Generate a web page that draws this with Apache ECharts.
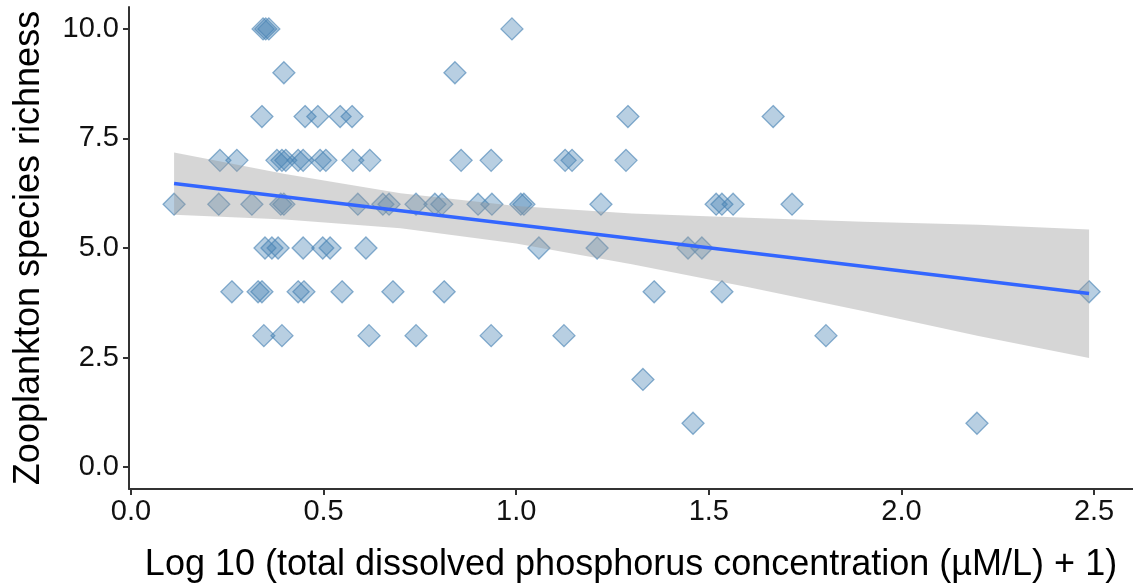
<!DOCTYPE html>
<html>
<head>
<meta charset="utf-8">
<script src="https://cdn.jsdelivr.net/npm/echarts@6/dist/echarts.min.js"></script>
<style>
  html, body { margin: 0; padding: 0; background: #ffffff; }
  #chart { width: 1133px; height: 588px; }
</style>
</head>
<body>
<div id="chart"></div>
<script>
// Sites: log10(TDP + 1) and zooplankton species richness
const logTDP = [
  // richness 10
  0.343, 0.350, 0.358, 0.989,
  // richness 9
  0.397, 0.841,
  // richness 8
  0.340, 0.452, 0.485, 0.543, 0.574, 1.290, 1.667,
  // richness 7
  0.231, 0.275, 0.379, 0.392, 0.402, 0.434, 0.447, 0.491, 0.506, 0.576,
  0.620, 0.857, 0.935, 1.127, 1.145, 1.285,
  // richness 6
  0.112, 0.228, 0.314, 0.389, 0.397, 0.589, 0.654, 0.670, 0.740, 0.789,
  0.807, 0.901, 0.937, 1.012, 1.020, 1.220, 1.519, 1.534, 1.563, 1.716,
  // richness 5
  0.348, 0.366, 0.382, 0.447, 0.498, 0.517, 0.610, 1.059, 1.210, 1.446, 1.482,
  // richness 4
  0.262, 0.330, 0.340, 0.434, 0.449, 0.548, 0.680, 0.813, 1.358, 1.534, 2.487,
  // richness 3
  0.345, 0.392, 0.618, 0.740, 0.935, 1.124, 1.804,
  // richness 2
  1.329,
  // richness 1
  1.459, 2.196
];
const richness = [
  10, 10, 10, 10,
  9, 9,
  8, 8, 8, 8, 8, 8, 8,
  7, 7, 7, 7, 7, 7, 7, 7, 7, 7,
  7, 7, 7, 7, 7, 7,
  6, 6, 6, 6, 6, 6, 6, 6, 6, 6,
  6, 6, 6, 6, 6, 6, 6, 6, 6, 6,
  5, 5, 5, 5, 5, 5, 5, 5, 5, 5, 5,
  4, 4, 4, 4, 4, 4, 4, 4, 4, 4, 4,
  3, 3, 3, 3, 3, 3, 3,
  2,
  1, 1
];

// Linear fit and its 95% confidence band
const fitX = [0.112, 2.487];
const fitY = [6.47, 3.96];
const bandX     = [0.112, 0.4,  0.7,  1.0,  1.3,  1.6,  1.9,  2.2,  2.487];
const bandLower = [5.76,  5.65, 5.45, 5.10, 4.63, 4.11, 3.56, 2.99, 2.49];
const bandUpper = [7.18,  6.69, 6.25, 5.96, 5.79, 5.69, 5.60, 5.53, 5.42];

// Axis ticks
const xTicks = [0, 0.5, 1.0, 1.5, 2.0, 2.5];
const yTicks = [0, 2.5, 5.0, 7.5, 10.0];

const points = logTDP.map((x, i) => [x, richness[i]]);
const fitLine = fitX.map((x, i) => [x, fitY[i]]);

const FONT = '"Liberation Sans", Arial, Helvetica, sans-serif';
const axisLineStyle = { color: '#333333', width: 2 };

const chart = echarts.init(document.getElementById('chart'), null, { renderer: 'canvas' });

chart.setOption({
  animation: false,
  backgroundColor: '#ffffff',
  grid: { left: 129, right: 0, top: 7, bottom: 97, containLabel: false },
  xAxis: {
    type: 'value',
    min: -0.005,
    max: 2.601,
    name: 'Log 10 (total dissolved phosphorus concentration (\u00b5M/L) + 1)',
    nameLocation: 'middle',
    nameGap: 58,
    nameTextStyle: { fontFamily: FONT, fontSize: 36, color: '#000000' },
    axisLine: { show: true, onZero: false, lineStyle: axisLineStyle },
    axisTick: { show: true, length: 6, customValues: xTicks, lineStyle: axisLineStyle },
    axisLabel: {
      customValues: xTicks,
      formatter: v => v.toFixed(1),
      fontFamily: FONT, fontSize: 29, color: '#111111', margin: 8
    },
    splitLine: { show: false }
  },
  yAxis: {
    type: 'value',
    min: -0.5,
    max: 10.5,
    name: 'Zooplankton species richness',
    nameLocation: 'middle',
    nameGap: 82,
    nameRotate: 90,
    nameTextStyle: { fontFamily: FONT, fontSize: 36, color: '#000000' },
    axisLine: { show: true, onZero: false, lineStyle: axisLineStyle },
    axisTick: { show: true, length: 6, customValues: yTicks, lineStyle: axisLineStyle },
    axisLabel: {
      customValues: yTicks,
      formatter: v => v.toFixed(1),
      fontFamily: FONT, fontSize: 29, color: '#111111', margin: 10
    },
    splitLine: { show: false }
  },
  series: [
    {
      name: 'sites',
      type: 'scatter',
      data: points,
      symbol: 'diamond',
      symbolSize: 22,
      z: 2,
      itemStyle: {
        color: 'rgba(70,130,180,0.48)',
        borderColor: 'rgba(70,130,180,0.78)',
        borderWidth: 1.3
      }
    },
    {
      name: 'band',
      type: 'custom',
      z: 3,
      silent: true,
      data: [0],
      renderItem: function (params, api) {
        const pts = [];
        for (let i = 0; i < bandX.length; i++) pts.push(api.coord([bandX[i], bandUpper[i]]));
        for (let i = bandX.length - 1; i >= 0; i--) pts.push(api.coord([bandX[i], bandLower[i]]));
        return {
          type: 'polygon',
          shape: { points: pts },
          style: { fill: 'rgba(153,153,153,0.4)', stroke: null }
        };
      }
    },
    {
      name: 'fit',
      type: 'line',
      data: fitLine,
      z: 4,
      symbol: 'none',
      silent: true,
      lineStyle: { color: '#3366FF', width: 3.5 }
    }
  ]
});
</script>
</body>
</html>
